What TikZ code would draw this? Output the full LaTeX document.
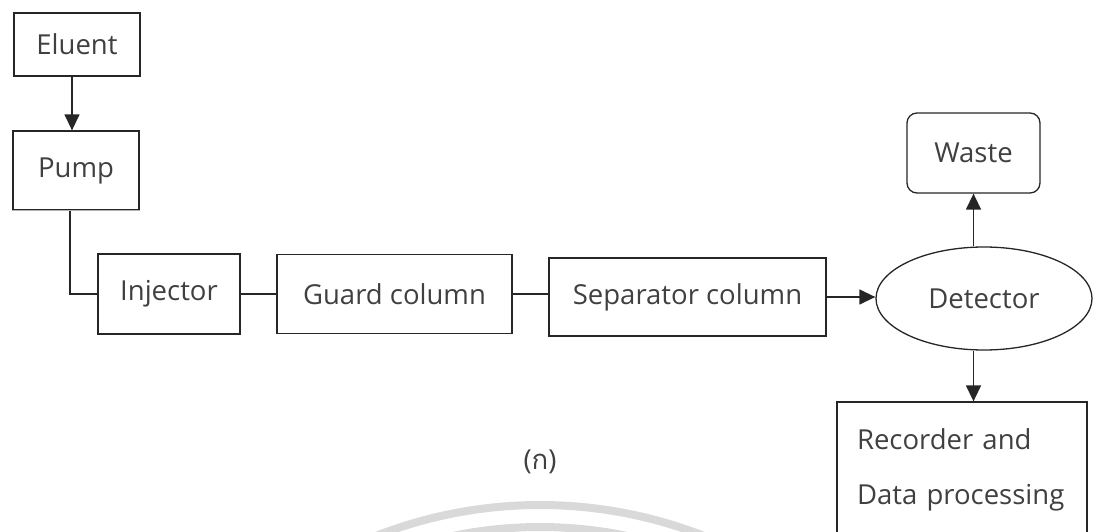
\documentclass[tikz,border=0pt]{standalone}
\usepackage{fontspec}
\setmainfont{Open Sans}
\newfontfamily\thaifont[Script=Thai]{Loma}
\usetikzlibrary{shapes.geometric,arrows.meta}

\begin{document}
\begin{tikzpicture}[x=1pt, y=-1pt,
    box/.style={draw=black!85, line width=1.3pt, rectangle, inner sep=0pt,
      font=\fontsize{27.5}{32}\selectfont, text=black!75},
    pipe/.style={draw=black!85, line width=1.4pt},
    flow/.style={pipe, -{Triangle[length=16pt, width=15pt]}},
    watermark/.style={draw=black!15, line width=8pt}]
  \useasboundingbox (0,0) rectangle (1093,532);

  % faint logo rings at the foot of the page
  \draw[watermark] (540,955) ++(245:450) arc[start angle=245, end angle=295, radius=450];
  \draw[watermark] (540,955) ++(245:428) arc[start angle=245, end angle=295, radius=428];

  % units of the system
  \node[box, minimum width=126, minimum height=63] (eluent) at (77,44.5) {Eluent};
  \node[box, minimum width=126, minimum height=79] (pump) at (76,170.5) {Pump};
  \draw[black!30, line width=1.6pt] (pump.south west) -- (pump.south east);
  \node[box, minimum width=142, minimum height=80] (injector) at (169,294) {Injector};
  \node[box, minimum width=235, minimum height=79] (guard) at (394.5,294) {Guard column};
  \node[box, minimum width=277, minimum height=78] (separator) at (687.5,297) {Separator column};
  \node[box, ellipse, minimum width=216, minimum height=103] (detector) at (984,298.5) {Detector};
  \node[box, rounded corners=10pt, minimum width=133, minimum height=80] (waste) at (973.5,153) {Waste};
  \node[box, minimum width=250, minimum height=135, align=left, text width=210,
    font=\fontsize{27.5}{55}\selectfont] (recorder) at (962,469.5) {Recorder and\\Data processing};
  \node[font=\fontsize{27.5}{32}\selectfont, text=black!75] (caption) at (540,462) {({\thaifont ก})};

  % tubing between the units
  \draw[flow] ([xshift=-5pt]eluent.south) -- ([xshift=-4pt]pump.north);
  \draw[pipe] ([xshift=-6pt]pump.south) |- (injector.west);
  \draw[pipe] (injector.east) -- (injector.east -| guard.west);
  \draw[pipe] (guard.east) -- (guard.east -| separator.west);
  \draw[flow] (separator.east) -- (separator.east -| detector.west);
  \draw[flow] (detector.north -| waste.south) -- (waste.south);
  \draw[flow] (detector.south -| waste.south) -- (recorder.north -| waste.south);
\end{tikzpicture}
\end{document}
